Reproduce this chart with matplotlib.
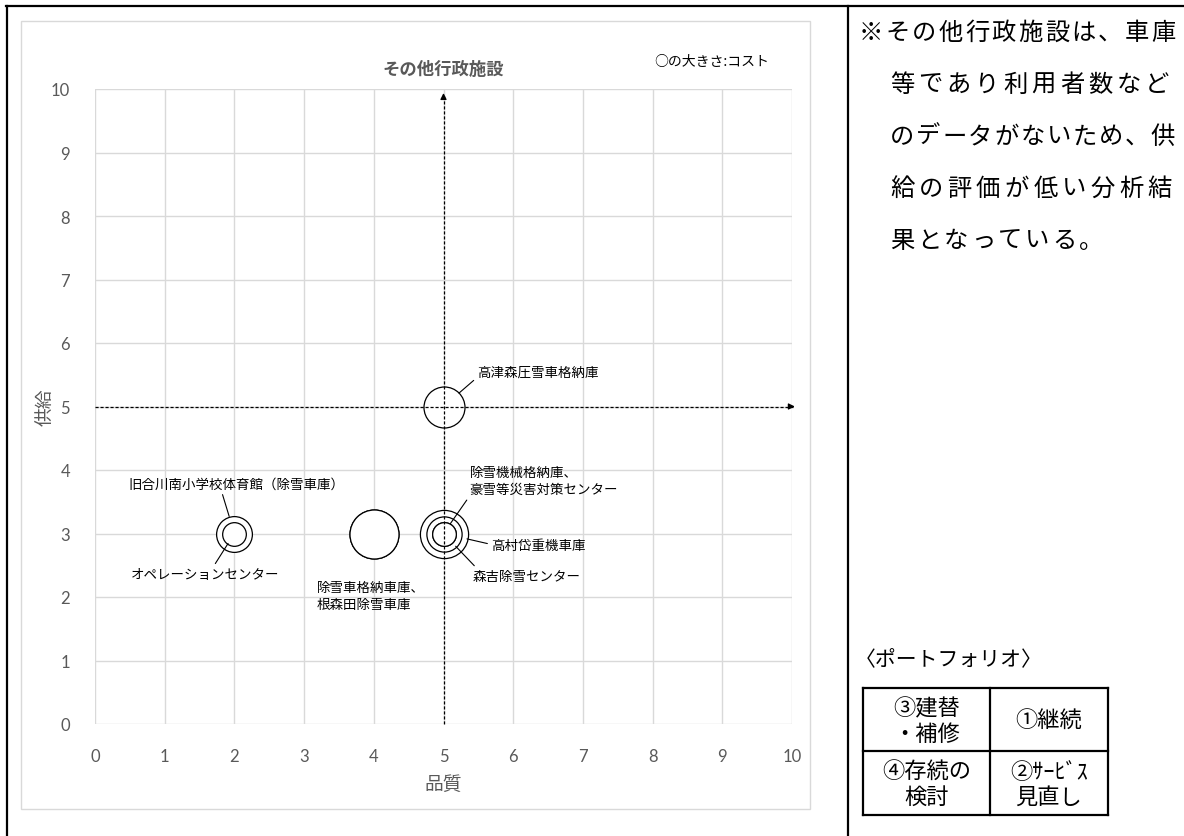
import matplotlib
matplotlib.use("Agg")
import matplotlib.pyplot as plt
from matplotlib.lines import Line2D
import numpy as np

plt.rcParams['font.family'] = ['Noto Sans CJK JP', 'DejaVu Sans']

# --- data -------------------------------------------------------------
names = ['除雪車格納車庫', '根森田除雪車庫', '高村岱重機車庫', '高津森圧雪車格納庫',
         '旧合川南小学校体育館（除雪車庫）', '森吉除雪センター', '除雪機械格納庫',
         '豪雪等災害対策センター', 'オペレーションセンター']
quality = [4, 4, 5, 5, 2, 5, 5, 5, 2]
supply = [3, 3, 3, 5, 3, 3, 3, 3, 3]
cost = [6.0, 6.0, 5.8, 4.2, 3.2, 3.1, 1.4, 1.4, 1.4]

ticks = list(range(0, 11))
title = 'その他行政施設'
size_note = '○の大きさ:コスト'
xlabel = '品質'
ylabel = '供給'

note_lines = ['※その他行政施設は、車庫', '等であり利用者数など', 'のデータがないため、供',
              '給の評価が低い分析結', '果となっている。']
portfolio_title = '〈ポートフォリオ〉'
portfolio_cells = [['③建替\n・補修', '①継続'], ['④存続の\n検討', '②ｻｰﾋﾞｽ\n見直し']]

W, H = 1184, 837
DPI = 100


def fx(px):
    return px / W


def fy(py):
    return 1 - py / H


fig = plt.figure(figsize=(W / DPI, H / DPI), dpi=DPI)
ax = fig.add_axes([fx(95), fy(725), fx(792) - fx(95), fy(90) - fy(725)])

ax.set_xlim(0, 10)
ax.set_ylim(0, 10)
ax.set_xticks(ticks)
ax.set_yticks(ticks)
ax.grid(True, color='#d9d9d9', lw=1)
ax.set_axisbelow(True)
for s in ax.spines.values():
    s.set_visible(False)
ax.tick_params(length=0, colors='#595959', labelsize=12)
ax.tick_params(axis='x', pad=17)
ax.tick_params(axis='y', pad=18)
for lab in ax.get_xticklabels() + ax.get_yticklabels():
    lab.set_family(['Lato', 'DejaVu Sans'])

ax.set_xlabel(xlabel, color='#595959', fontsize=13.5, labelpad=7)
ax.set_ylabel(ylabel, color='#595959', fontsize=13.5, labelpad=-4)

# bubbles: area proportional to cost, largest first so smaller stay visible
max_r_px = 24.5
cost_arr = np.array(cost)
r_px = max_r_px * np.sqrt(cost_arr / cost_arr.max())
r_pt = r_px * 72 / DPI
order = np.argsort(-cost_arr, kind='stable')
for i in order:
    ax.scatter(quality[i], supply[i], s=(2 * r_pt[i]) ** 2, facecolor='white',
               edgecolor='black', lw=0.9, zorder=3)

# dashed axes arrows at the mid point
ax.plot([0, 10.02], [5, 5], color='black', lw=0.9, ls=(0, (2.5, 1.5)), zorder=4, clip_on=False)
ax.plot([5, 5], [0, 9.9], color='black', lw=0.9, ls=(0, (2.5, 1.5)), zorder=4, clip_on=False)
ax.annotate('', xy=(10.08, 5), xytext=(9.95, 5),
            arrowprops=dict(arrowstyle='-|>', color='black', lw=0.9, mutation_scale=9),
            zorder=5, annotation_clip=False)
ax.annotate('', xy=(5, 9.98), xytext=(5, 9.8),
            arrowprops=dict(arrowstyle='-|>', color='black', lw=0.9, mutation_scale=9),
            zorder=5, annotation_clip=False)

# data labels (offsets in pixels from bubble centre)
label_specs = [
    # (text, point index, dx, dy, ha, va, relpos, leader)
    ('高津森圧雪車格納庫', 3, 34, 35, 'left', 'center', (0, 0.1), True),
    ('除雪機械格納庫、\n豪雪等災害対策センター', 6, 26, 53, 'left', 'center', (0.0, 0.0), True),
    ('高村岱重機車庫', 2, 48, -11, 'left', 'center', (0, 0.5), True),
    ('森吉除雪センター', 5, 29, -43, 'left', 'center', (0.05, 1.0), True),
    ('除雪車格納車庫、\n根森田除雪車庫', 0, -57, -62, 'left', 'center', (0, 1), False),
    ('旧合川南小学校体育館（除雪車庫）', 4, 2, 50, 'center', 'center', (0.43, 0.0), True),
    ('オペレーションセンター', 8, -29, -41, 'center', 'center', (0.55, 1.0), True),
]
for text, idx, dx, dy, ha, va, rel, leader in label_specs:
    props = None
    if leader:
        props = dict(arrowstyle='-', color='black', lw=0.8, relpos=rel,
                     shrinkA=1, shrinkB=r_pt[idx])
    ax.annotate(text, xy=(quality[idx], supply[idx]),
                xytext=(dx * 72 / DPI, dy * 72 / DPI), textcoords='offset points',
                ha=ha, va=va, fontsize=9.7, linespacing=1.3,
                arrowprops=props, zorder=6)

fig.text(fx(443), fy(70), title, ha='center', va='center', fontsize=12.5,
         fontweight='bold', color='#595959')
fig.text(fx(712), fy(62), size_note, ha='center', va='center', fontsize=10)

# chart area border
fig.add_artist(plt.Rectangle((fx(21), fy(810)), fx(810) - fx(21), fy(22) - fy(810),
                             transform=fig.transFigure, fill=False,
                             edgecolor='#d9d9d9', lw=1))

# outer frame lines
frame = dict(color='black', lw=1.6, transform=fig.transFigure)
fig.add_artist(Line2D([fx(6), fx(1184)], [fy(7), fy(7)], **frame))
fig.add_artist(Line2D([fx(7), fx(7)], [fy(7), fy(837)], **frame))
fig.add_artist(Line2D([fx(848), fx(848)], [fy(7), fy(837)], **frame))

# note text, laid out character by character (justified)
note_starts = [871, 902, 902, 902, 902]
note_ends = [1163, 1157, 1163, 1160, None]
for k, line in enumerate(note_lines):
    n = len(line)
    x0 = note_starts[k]
    pitch = 27.0 if note_ends[k] is None else (note_ends[k] - x0) / (n - 1)
    ypx = 33 + 52 * k
    for j, ch in enumerate(line):
        fig.text(fx(x0 + j * pitch), fy(ypx), ch, ha='center', va='center',
                 fontsize=17.5, color='black')

fig.text(fx(855), fy(660), portfolio_title, ha='left', va='center', fontsize=15)

# portfolio table
tx = [863, 990, 1108]
ty = [689, 752, 816]
tbl = dict(color='black', lw=1.6, transform=fig.transFigure)
for x in tx:
    fig.add_artist(Line2D([fx(x), fx(x)], [fy(ty[0]), fy(ty[-1])], **tbl))
for y in ty:
    fig.add_artist(Line2D([fx(tx[0]), fx(tx[-1])], [fy(y), fy(y)], **tbl))
for r in range(2):
    for c in range(2):
        fig.text(fx((tx[c] + tx[c + 1]) / 2), fy((ty[r] + ty[r + 1]) / 2 + 1),
                 portfolio_cells[r][c], ha='center', va='center', fontsize=16,
                 linespacing=1.12)

fig.savefig('out.png', dpi=DPI)
